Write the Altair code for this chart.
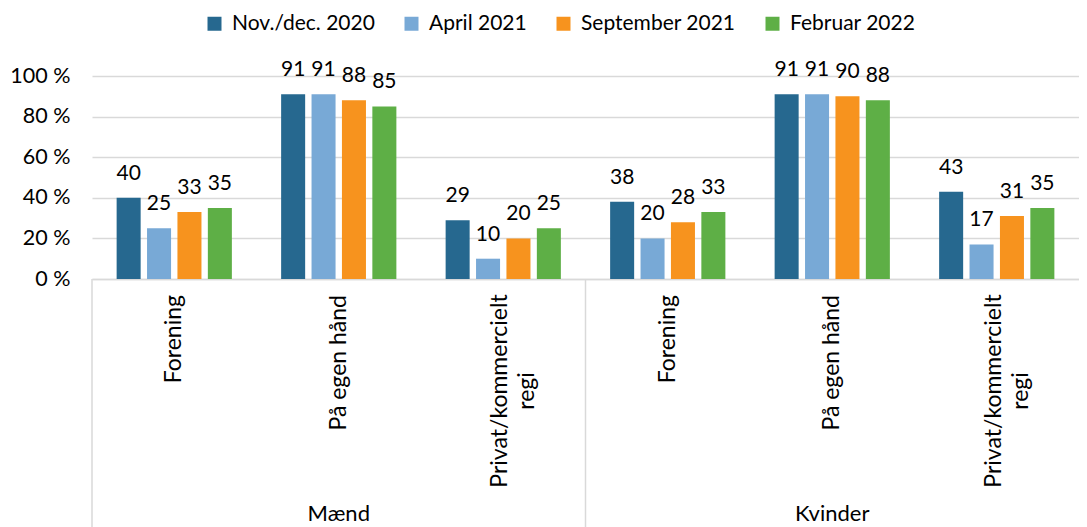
import altair as alt
import pandas as pd

genders = ["Mænd", "Kvinder"]
categories = ["Forening", "På egen hånd", "Privat/kommercielt regi"]
category_labels = ["Forening", "På egen hånd", "Privat/kommercielt\nregi"]
periods = ["Nov./dec. 2020", "April 2021", "September 2021", "Februar 2022"]
colors = ["#26688F", "#78A9D6", "#F7931E", "#5EAF46"]

maend_forening = [40, 25, 33, 35]
maend_egen = [91, 91, 88, 85]
maend_privat = [29, 10, 20, 25]
kvinder_forening = [38, 20, 28, 33]
kvinder_egen = [91, 91, 90, 88]
kvinder_privat = [43, 17, 31, 35]

y_ticks = [0, 20, 40, 60, 80, 100]

values = {
    "Mænd": [maend_forening, maend_egen, maend_privat],
    "Kvinder": [kvinder_forening, kvinder_egen, kvinder_privat],
}

rows = []
for g in genders:
    for c, vals in zip(categories, values[g]):
        for p, v in zip(periods, vals):
            rows.append({"gender": g, "category": c, "key": g + "|" + c, "period": p, "value": v})
df = pd.DataFrame(rows)
keys = [g + "|" + c for g in genders for c in categories]

cat_rows = []
for g in genders:
    for c, lab in zip(categories, category_labels):
        cat_rows.append({"key": g + "|" + c, "label": lab, "multi": "\n" in lab})
cat_df = pd.DataFrame(cat_rows)

FONT = "Lato"
GRID = "#d9d9d9"
W, H = 987, 203

x_axis = alt.Axis(
    title=None, labels=False, ticks=False, domainColor=GRID, domainWidth=1.5,
)
x_scale = alt.Scale(domain=keys, paddingInner=0, paddingOuter=0)


def xenc(**kw):
    return alt.X("key:N", scale=x_scale, axis=x_axis, **kw)


xoff = alt.XOffset("period:N", sort=periods,
                   scale=alt.Scale(domain=periods, paddingInner=0.21, paddingOuter=0.81))

y_enc = alt.Y(
    "value:Q",
    scale=alt.Scale(domain=[0, 100], nice=False),
    axis=alt.Axis(
        title=None, values=y_ticks, labelExpr="datum.value + ' %'", ticks=False,
        domain=False, gridColor=GRID, gridWidth=1.5, labelFontSize=21.5, labelFont=FONT,
        labelColor="#000000", labelPadding=22,
    ),
)

bars = alt.Chart(df).mark_bar().encode(
    x=xenc(),
    xOffset=xoff,
    y=y_enc,
    color=alt.Color(
        "period:N", sort=periods,
        scale=alt.Scale(domain=periods, range=colors),
        legend=alt.Legend(
            title=None, orient="none", legendX=112, legendY=-63, direction="horizontal",
            columns=4, symbolType="square", symbolSize=196, symbolStrokeWidth=0,
            labelFontSize=21, labelFont=FONT, labelColor="#000000", columnPadding=26,
            labelOffset=7, padding=0, labelLimit=400,
        ),
    ),
)

labels = alt.Chart(df).mark_text(
    baseline="alphabetic", dy=-18, fontSize=21, font=FONT, color="#000000"
).encode(
    x=xenc(),
    xOffset=xoff,
    y="value:Q",
    text=alt.Text("value:Q"),
)

cat_single = alt.Chart(cat_df).transform_filter("!datum.multi").mark_text(
    angle=270, align="right", baseline="middle", fontSize=23, font=FONT, color="#000000"
).encode(
    x=xenc(),
    y=alt.value(H + 16),
    text="label:N",
)

cat_multi = alt.Chart(cat_df).transform_filter("datum.multi").mark_text(
    angle=270, align="center", baseline="middle", fontSize=23, font=FONT, color="#000000",
    lineBreak="\n", lineHeight=27, dy=-3,
).encode(
    x=xenc(),
    y=alt.value(H + 16 + 96),
    text="label:N",
)

gender_df = pd.DataFrame({"key": [g + "|" + categories[1] for g in genders], "gender": genders})
gender_text = alt.Chart(gender_df).mark_text(
    baseline="alphabetic", fontSize=22, font=FONT, color="#000000"
).encode(
    x=xenc(),
    y=alt.value(H + 242),
    text="gender:N",
)

sep_df = pd.DataFrame({"key": [g + "|" + categories[0] for g in genders]})
seps = alt.Chart(sep_df).mark_rule(color=GRID, strokeWidth=1.5).encode(
    x=xenc(bandPosition=0),
    y=alt.value(H),
    y2=alt.value(H + 250),
)

chart = alt.layer(bars, labels, seps, cat_single, cat_multi, gender_text).properties(
    width=W, height=H,
    autosize=alt.AutoSizeParams(type="none"),
    padding={"left": 84, "top": 68, "right": 0, "bottom": 248},
).configure_view(strokeWidth=0)

chart.save("out.html", embed_options={"renderer": "svg", "actions": False})
